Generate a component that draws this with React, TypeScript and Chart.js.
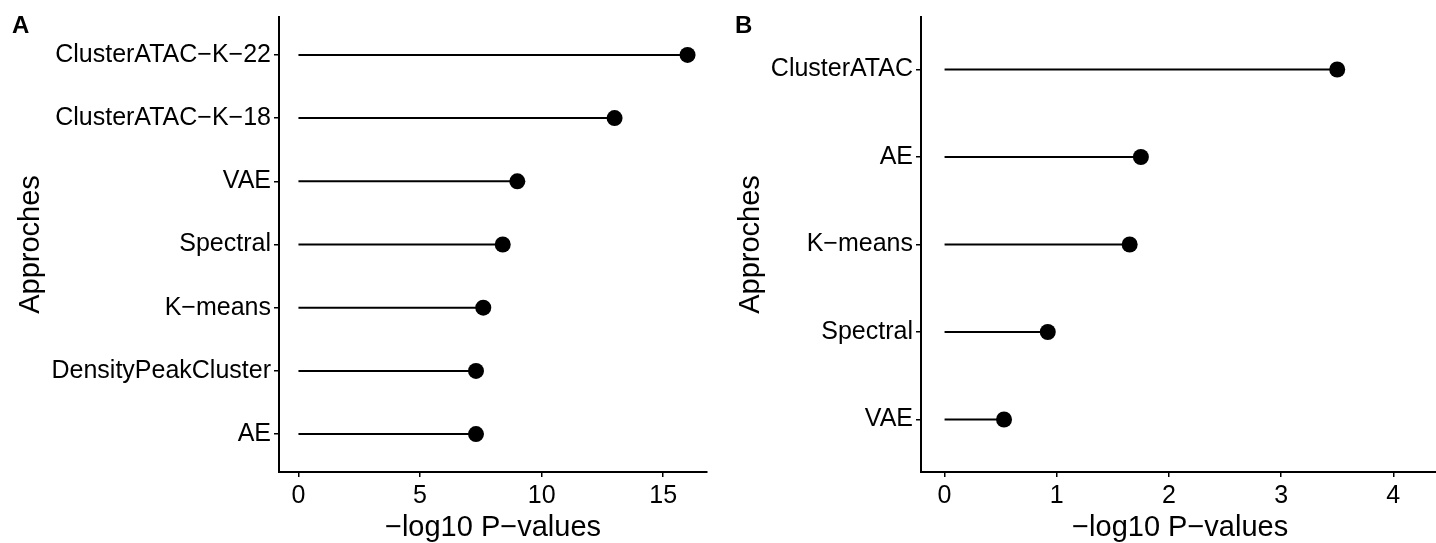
import React, { useEffect, useRef } from "react";
import { Chart, registerables } from "chart.js";

Chart.register(...registerables);

// ---- Data ----
const categoriesA = [
  "ClusterATAC−K−22",
  "ClusterATAC−K−18",
  "VAE",
  "Spectral",
  "K−means",
  "DensityPeakCluster",
  "AE",
];
const valuesA = [16, 13, 9.0, 8.4, 7.6, 7.3, 7.3];
const xTicksA = [0, 5, 10, 15];

const categoriesB = ["ClusterATAC", "AE", "K−means", "Spectral", "VAE"];
const valuesB = [3.5, 1.75, 1.65, 0.92, 0.53];
const xTicksB = [0, 1, 2, 3, 4];

const xTitle = "−log10 P−values";
const yTitle = "Approches";

const FONT = "'Liberation Sans', Arial, Helvetica, sans-serif";

function makeConfig(
  categories: string[],
  values: number[],
  xTicks: number[],
  xMin: number,
  xMax: number,
  yWidth: number,
  padRight: number
): any {
  const n = categories.length;
  const stems = categories.map((c, i) => ({
    type: "line",
    label: c,
    data: [
      { x: 0, y: i + 1 },
      { x: values[i], y: i + 1 },
    ],
    borderColor: "#000",
    borderWidth: 2,
    borderCapStyle: "butt",
    pointRadius: 0,
    fill: false,
    order: 1,
  }));
  const dots = {
    type: "scatter",
    label: "dots",
    data: values.map((v, i) => ({ x: v, y: i + 1 })),
    pointRadius: 8,
    pointBackgroundColor: "#000",
    pointBorderWidth: 0,
    order: 0,
  };
  const gridCfg = {
    display: true,
    drawOnChartArea: false,
    drawTicks: true,
    tickLength: 5,
    color: "#000",
    lineWidth: 1.5,
  };
  const borderCfg = { display: true, color: "#000", width: 2 };
  return {
    type: "scatter",
    data: { datasets: [dots, ...stems] },
    options: {
      animation: false,
      responsive: false,
      events: [],
      layout: {
        autoPadding: false,
        padding: { top: 17, right: padRight, left: 0, bottom: 0 },
      },
      plugins: { legend: { display: false }, tooltip: { enabled: false } },
      scales: {
        x: {
          type: "linear",
          min: xMin,
          max: xMax,
          afterBuildTicks: (ax: any) => {
            ax.ticks = xTicks.map((v) => ({ value: v }));
          },
          afterFit: (ax: any) => {
            ax.height = 71;
            ax.paddingLeft = 0;
            ax.paddingRight = 0;
          },
          ticks: {
            font: { family: FONT, size: 25 },
            color: "#000",
            padding: 4,
            maxRotation: 0,
            callback: (v: any) => String(v),
          },
          grid: gridCfg,
          border: borderCfg,
          title: {
            display: true,
            text: xTitle,
            font: { family: FONT, size: 29 },
            color: "#000",
            padding: { top: 0, bottom: -2 },
          },
        },
        y: {
          type: "linear",
          reverse: true,
          min: 0.4,
          max: n + 0.6,
          afterBuildTicks: (ax: any) => {
            ax.ticks = categories.map((_, i) => ({ value: i + 1 }));
          },
          afterFit: (ax: any) => {
            ax.width = yWidth;
            ax.paddingTop = 0;
            ax.paddingBottom = 0;
          },
          ticks: {
            font: { family: FONT, size: 25 },
            color: "#000",
            padding: 3,
            callback: (v: any) => categories[Math.round(Number(v)) - 1] ?? "",
          },
          grid: gridCfg,
          border: borderCfg,
          title: {
            display: true,
            text: yTitle,
            font: { family: FONT, size: 29 },
            color: "#000",
            padding: { top: 14, bottom: 0 },
          },
        },
      },
    },
  };
}

function Panel(props: { left: number; width: number; config: () => any }) {
  const ref = useRef<HTMLCanvasElement | null>(null);
  useEffect(() => {
    if (!ref.current) return;
    const chart = new Chart(ref.current, props.config());
    return () => chart.destroy();
  }, []);
  return (
    <canvas
      ref={ref}
      width={props.width}
      height={543}
      style={{
        position: "absolute",
        left: props.left,
        top: 0,
        width: props.width,
        height: 543,
        display: "block",
      }}
    />
  );
}

export default function App() {
  const labelStyle: React.CSSProperties = {
    position: "absolute",
    top: 13,
    fontFamily: FONT,
    fontWeight: "bold",
    fontSize: 24,
    lineHeight: "24px",
    color: "#000",
  };
  return (
    <div
      style={{
        position: "fixed",
        left: 0,
        top: 0,
        width: 1436,
        height: 543,
        overflow: "hidden",
        background: "#fff",
      }}
    >
      <Panel
        left={0}
        width={720}
        config={() =>
          makeConfig(categoriesA, valuesA, xTicksA, -0.8, 16.8, 279, 13)
        }
      />
      <Panel
        left={720}
        width={720}
        config={() =>
          makeConfig(categoriesB, valuesB, xTicksB, -0.21, 4.41, 201, 0.7)
        }
      />
      <div style={{ ...labelStyle, left: 12 }}>A</div>
      <div style={{ ...labelStyle, left: 735 }}>B</div>
    </div>
  );
}
